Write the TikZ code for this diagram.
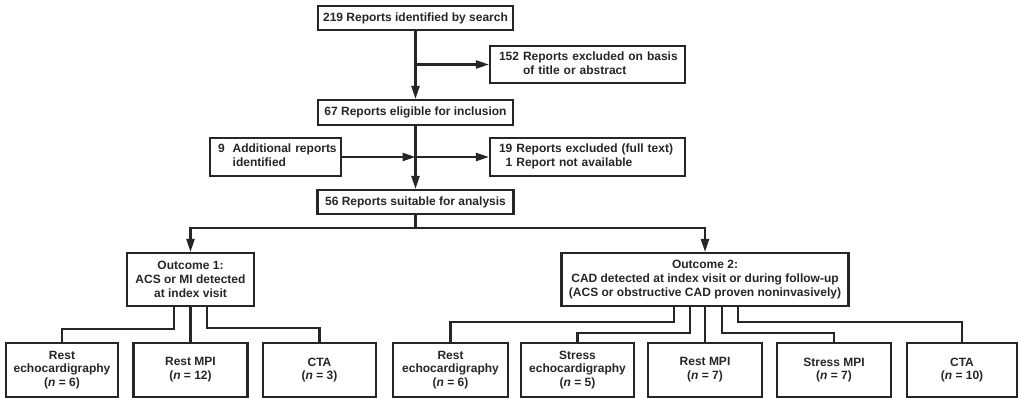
\documentclass[tikz,border=0pt]{standalone}
\usepackage{fontspec}
\setmainfont{Liberation Sans}
\usetikzlibrary{arrows.meta}
\begin{document}
\begin{tikzpicture}[x=1pt,y=-1pt,
  box/.style={draw, line width=2.1pt, inner sep=0pt, align=center, color=black!85,
    text=black!85, font=\fontsize{12}{13.8}\selectfont\bfseries},
  lbox/.style={box, align=left},
  link/.style={line width=2.3pt, color=black!85},
  arr/.style={link, -{Triangle[length=13pt,width=8pt]}}]
\useasboundingbox (0,0) rectangle (1019,398);
% top chain
\node[box, minimum width=195pt, minimum height=24pt] (n219) at (415.5,18) {219 Reports identified by search};
\node[lbox, minimum width=195pt, minimum height=37pt, text width=177pt] (n152) at (587.5,64.5)
  {\begin{tabular}{@{}r@{~}l@{}}152 & Reports excluded on basis\\ & of title or abstract\end{tabular}};
\node[box, minimum width=195pt, minimum height=25pt] (n67) at (415.5,112.5) {67 Reports eligible for inclusion};
\node[lbox, minimum width=131pt, minimum height=38pt, text width=115pt] (n9) at (275.5,157)
  {\begin{tabular}{@{}r@{~~}l@{}}9 & Additional reports\\ & identified\end{tabular}};
\node[lbox, minimum width=195pt, minimum height=38pt, text width=177pt] (n19) at (587.5,157)
  {\begin{tabular}{@{}r@{~}l@{}}19 & Reports excluded (full text)\\ 1 & Report not available\end{tabular}};
\node[box, minimum width=196pt, minimum height=24pt] (n56) at (415.5,202) {56 Reports suitable for analysis};
% outcomes
\node[box, minimum width=127pt, minimum height=53pt] (o1) at (190.5,279.5) {Outcome 1:\\ACS or MI detected\\at index visit};
\node[box, minimum width=287pt, minimum height=53pt] (o2) at (705,279.5) {Outcome 2:\\CAD detected at index visit or during follow-up\\(ACS or obstructive CAD proven noninvasively)};
% bottom boxes
\tikzset{bbox/.style={box, minimum height=54pt}}
\node[bbox, minimum width=112pt] (e1) at (62,370) {Rest\\echocardigraphy\\(\textit{n} = 6)};
\node[bbox, minimum width=114pt] (m1) at (190.5,370) {Rest MPI\\(\textit{n} = 12)};
\node[bbox, minimum width=113pt] (c1) at (319.5,370) {CTA\\(\textit{n} = 3)};
\node[bbox, minimum width=115pt] (e2) at (450.5,370) {Rest\\echocardigraphy\\(\textit{n} = 6)};
\node[bbox, minimum width=113pt] (se) at (577.5,370) {Stress\\echocardigraphy\\(\textit{n} = 5)};
\node[bbox, minimum width=114pt] (m2) at (705,370) {Rest MPI\\(\textit{n} = 7)};
\node[bbox, minimum width=114pt] (sm) at (834,370) {Stress MPI\\(\textit{n} = 7)};
\node[bbox, minimum width=110pt] (c2) at (962,370) {CTA\\(\textit{n} = 10)};
% connectors top
\draw[arr] (n219.south) -- (n67.north);
\draw[arr] (n219.south |- n152.west) -- (n152.west);
\coordinate (mid) at (n9.east -| n67.south);
\draw[arr] (n9.east) -- (mid);
\draw[arr] (mid) -- (n19.west);
\draw[arr] (n67.south) -- (n56.north);
\coordinate (j) at (415.5,228);
\draw[link] (n56.south) -- (j);
\draw[arr] (j) -| (o1.north);
\draw[arr] (j) -| (o2.north);
% outcome 1 branches
\draw[link] ([xshift=-16.5pt]o1.south) -- ++(0,22) -| (e1.north);
\draw[link] (o1.south) -- (m1.north);
\draw[link] ([xshift=16.5pt]o1.south) -- ++(0,21) -| (c1.north);
% outcome 2 branches
\draw[link] ([xshift=-31pt]o2.south) -- ++(0,15) -| (e2.north);
\draw[link] ([xshift=-15pt]o2.south) -- ++(0,26) -| (se.north);
\draw[link] (o2.south) -- (m2.north);
\draw[link] ([xshift=17pt]o2.south) -- ++(0,26) -| (sm.north);
\draw[link] ([xshift=33pt]o2.south) -- ++(0,15) -| (c2.north);
\end{tikzpicture}
\end{document}
